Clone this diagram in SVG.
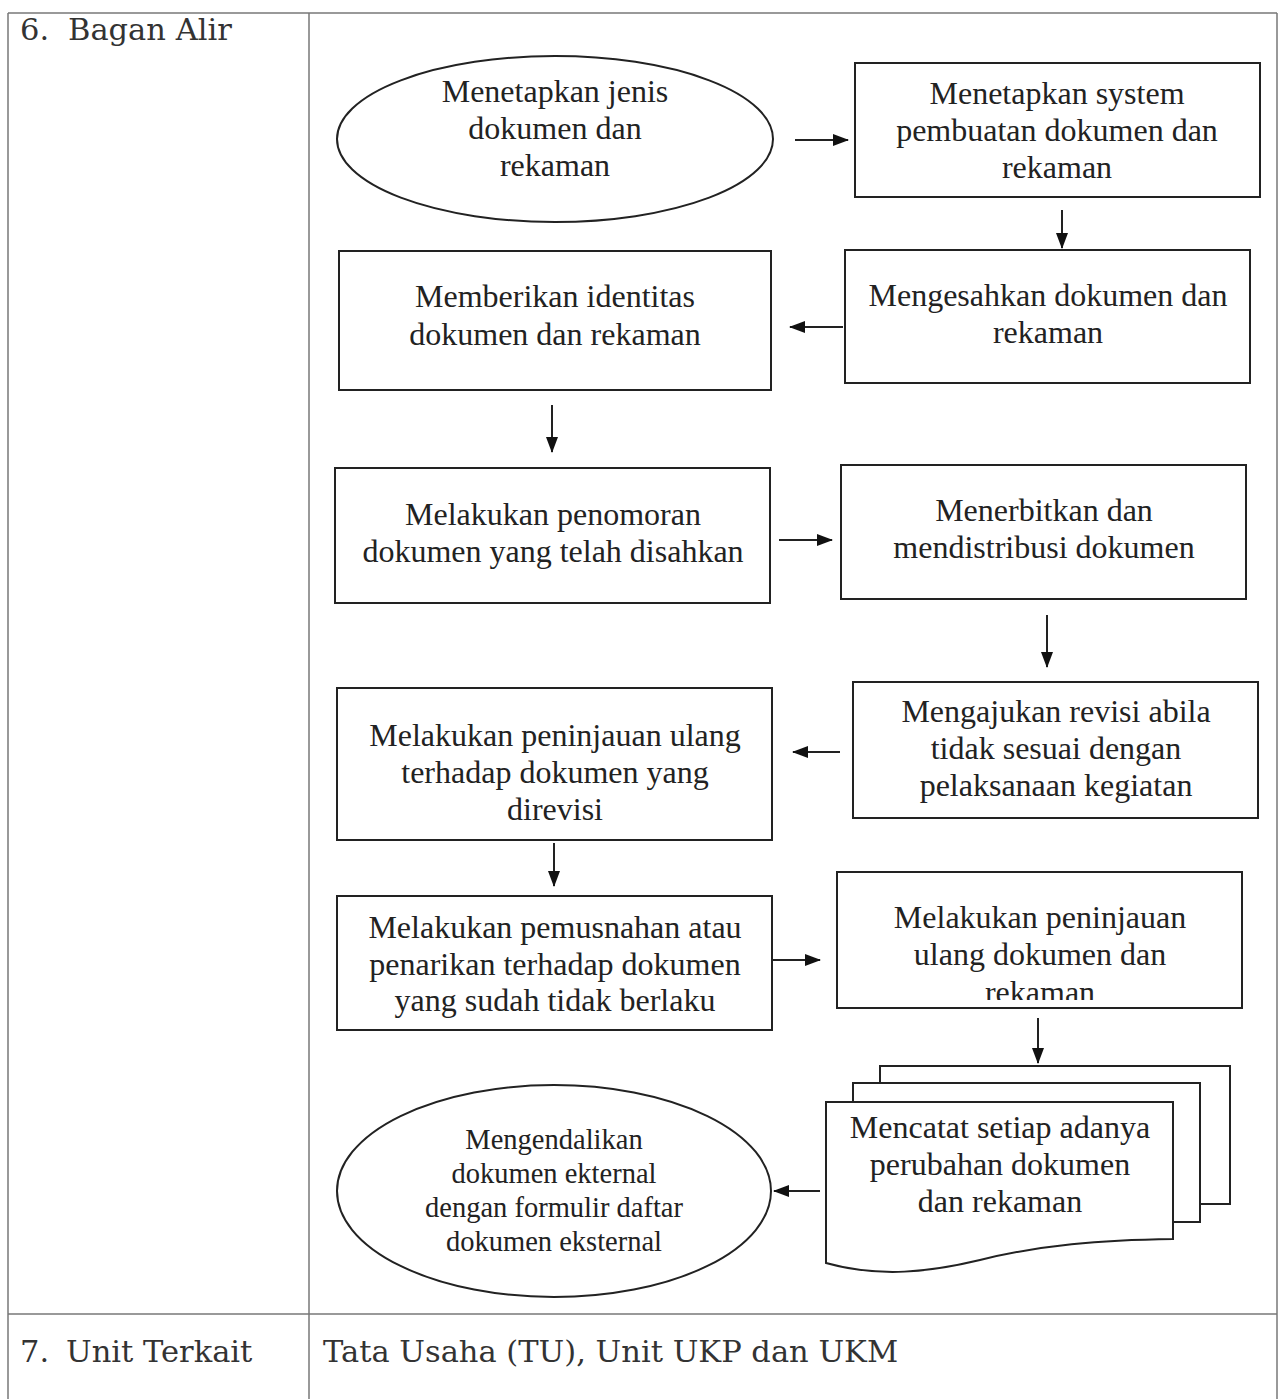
<svg xmlns="http://www.w3.org/2000/svg" width="1284" height="1399" viewBox="0 0 1284 1399">
<style>
.tbl{stroke:#777;stroke-width:1.5;fill:none}
.lbl{font-family:"DejaVu Serif","Liberation Serif",serif;font-size:30.5px;fill:#333}
.box{fill:#fff;stroke:#222;stroke-width:2}
.t{font-family:"Liberation Serif","Times New Roman",serif;font-size:32px;fill:#222;text-anchor:middle}
.ts{font-family:"Liberation Serif","Times New Roman",serif;font-size:28.5px;fill:#222;text-anchor:middle}
.c{stroke:#222;stroke-width:2;fill:none;marker-end:url(#ah)}
</style>
<defs>
<marker id="ah" viewBox="0 0 16 12" refX="15" refY="6" markerWidth="16" markerHeight="12" markerUnits="userSpaceOnUse" orient="auto">
<path d="M0,0 L16,6 L0,12 z" fill="#111"/>
</marker>
<clipPath id="clip10"><rect x="837" y="872" width="405" height="128"/></clipPath>
</defs>
<rect width="1284" height="1399" fill="#fff"/>
<g id="table">
<line class="tbl" x1="8" y1="13" x2="1277" y2="13"/>
<line class="tbl" x1="8" y1="13" x2="8" y2="1399"/>
<line class="tbl" x1="1277" y1="13" x2="1277" y2="1399"/>
<line class="tbl" x1="309" y1="13" x2="309" y2="1399"/>
<line class="tbl" x1="8" y1="1314" x2="1277" y2="1314"/>
<text class="lbl" x="20" y="40">6.</text>
<text class="lbl" x="68" y="40">Bagan Alir</text>
<text class="lbl" x="20" y="1362">7.</text>
<text class="lbl" x="66" y="1362">Unit Terkait</text>
<text class="lbl" x="323" y="1362">Tata Usaha (TU), Unit UKP dan UKM</text>
</g>
<g id="connectors">
<line class="c" x1="795" y1="140" x2="848" y2="140"/>
<line class="c" x1="1062" y1="210" x2="1062" y2="248"/>
<line class="c" x1="843" y1="327" x2="790" y2="327"/>
<line class="c" x1="552" y1="405" x2="552" y2="452"/>
<line class="c" x1="779" y1="540" x2="832" y2="540"/>
<line class="c" x1="1047" y1="615" x2="1047" y2="667"/>
<line class="c" x1="840" y1="752" x2="793" y2="752"/>
<line class="c" x1="554" y1="843" x2="554" y2="886"/>
<line class="c" x1="768" y1="960" x2="820" y2="960"/>
<line class="c" x1="1038" y1="1018" x2="1038" y2="1063"/>
<line class="c" x1="820" y1="1191" x2="774" y2="1191"/>
</g>
<g id="n1">
<ellipse class="box" cx="555" cy="139" rx="218" ry="83"/>
<text class="t" x="555" y="102">Menetapkan jenis</text>
<text class="t" x="555" y="139">dokumen dan</text>
<text class="t" x="555" y="176">rekaman</text>
</g>
<g id="n2">
<rect class="box" x="855" y="63" width="405" height="134"/>
<text class="t" x="1057" y="104">Menetapkan system</text>
<text class="t" x="1057" y="141">pembuatan dokumen dan</text>
<text class="t" x="1057" y="178">rekaman</text>
</g>
<g id="n3">
<rect class="box" x="845" y="250" width="405" height="133"/>
<text class="t" x="1048" y="306">Mengesahkan dokumen dan</text>
<text class="t" x="1048" y="343">rekaman</text>
</g>
<g id="n4">
<rect class="box" x="339" y="251" width="432" height="139"/>
<text class="t" x="555" y="307">Memberikan identitas</text>
<text class="t" x="555" y="345">dokumen dan rekaman</text>
</g>
<g id="n5">
<rect class="box" x="335" y="468" width="435" height="135"/>
<text class="t" x="553" y="525">Melakukan penomoran</text>
<text class="t" x="553" y="562">dokumen yang telah disahkan</text>
</g>
<g id="n6">
<rect class="box" x="841" y="465" width="405" height="134"/>
<text class="t" x="1044" y="521">Menerbitkan dan</text>
<text class="t" x="1044" y="558">mendistribusi dokumen</text>
</g>
<g id="n7">
<rect class="box" x="853" y="682" width="405" height="136"/>
<text class="t" x="1056" y="722">Mengajukan revisi abila</text>
<text class="t" x="1056" y="759">tidak sesuai dengan</text>
<text class="t" x="1056" y="796">pelaksanaan kegiatan</text>
</g>
<g id="n8">
<rect class="box" x="337" y="688" width="435" height="152"/>
<text class="t" x="555" y="746">Melakukan peninjauan ulang</text>
<text class="t" x="555" y="783">terhadap dokumen yang</text>
<text class="t" x="555" y="820">direvisi</text>
</g>
<g id="n9">
<rect class="box" x="337" y="896" width="435" height="134"/>
<text class="t" x="555" y="938">Melakukan pemusnahan atau</text>
<text class="t" x="555" y="975">penarikan terhadap dokumen</text>
<text class="t" x="555" y="1011">yang sudah tidak berlaku</text>
</g>
<g id="n10">
<rect class="box" x="837" y="872" width="405" height="136"/>
<g clip-path="url(#clip10)">
<text class="t" x="1040" y="928">Melakukan peninjauan</text>
<text class="t" x="1040" y="965">ulang dokumen dan</text>
<text class="t" x="1040" y="1003">rekaman</text>
</g>
</g>
<g id="n11">
<rect class="box" x="880" y="1066" width="350" height="138"/>
<rect class="box" x="853" y="1083" width="347" height="139"/>
<path class="box" d="M826,1102 L1173,1102 L1173,1239 C1100,1240 1040,1245 980,1260 C930,1272 880,1278 826,1263 Z"/>
<text class="t" x="1000" y="1138">Mencatat setiap adanya</text>
<text class="t" x="1000" y="1175">perubahan dokumen</text>
<text class="t" x="1000" y="1212">dan rekaman</text>
</g>
<g id="n12">
<ellipse class="box" cx="554" cy="1191" rx="217" ry="106"/>
<text class="ts" x="554" y="1149">Mengendalikan</text>
<text class="ts" x="554" y="1183">dokumen ekternal</text>
<text class="ts" x="554" y="1217">dengan formulir daftar</text>
<text class="ts" x="554" y="1251">dokumen eksternal</text>
</g>
</svg>
